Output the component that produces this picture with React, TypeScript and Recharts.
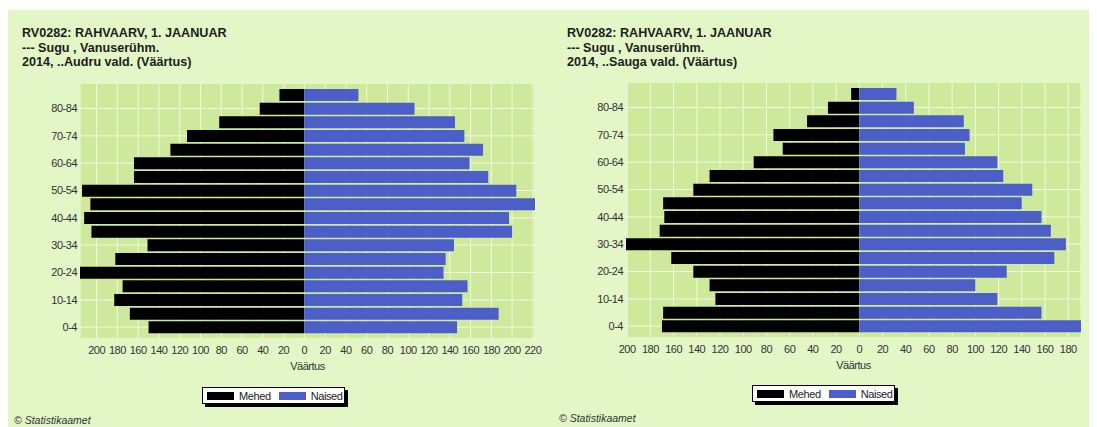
import React from 'react'
import { BarChart, Bar, XAxis, YAxis, CartesianGrid } from 'recharts'

// age groups, youngest first (axis is reversed so 0-4 sits at the bottom)
const ageGroups = [
  '0-4', '5-9', '10-14', '15-19', '20-24', '25-29', '30-34', '35-39', '40-44',
  '45-49', '50-54', '55-59', '60-64', '65-69', '70-74', '75-79', '80-84', '85+',
]

const audruMale = [150, 168, 183, 175, 216, 182, 151, 205, 212, 206, 214, 164, 164, 129, 113, 82, 43, 24]
const audruFemale = [147, 187, 152, 157, 134, 136, 144, 200, 197, 222, 204, 177, 159, 172, 154, 145, 106, 52]

const saugaMale = [170, 169, 124, 129, 143, 162, 201, 172, 168, 169, 143, 129, 91, 66, 74, 45, 27, 7]
const saugaFemale = [191, 157, 119, 100, 127, 168, 178, 165, 157, 140, 149, 124, 119, 91, 95, 90, 47, 32]

const audruTicks = [-200, -180, -160, -140, -120, -100, -80, -60, -40, -20, 0, 20, 40, 60, 80, 100, 120, 140, 160, 180, 200, 220]
const saugaTicks = [-200, -180, -160, -140, -120, -100, -80, -60, -40, -20, 0, 20, 40, 60, 80, 100, 120, 140, 160, 180]

const BG = '#e2f6c6'
const PLOT = '#cfe99c'
const GRID = '#f1f8de'
const BLUE = '#4c5fc9'
const FONT = '"Liberation Sans", Arial, sans-serif'
const PAD = 4
const tickStyle = { fill: '#333', fontSize: 11, fontFamily: FONT, letterSpacing: -0.5 }

type PanelProps = {
  place: string
  male: number[]
  female: number[]
  domain: [number, number]
  ticks: number[]
  x: number
  marginTop: number
  marginLeft: number
  marginRight: number
  legendX: number
  legendY: number
  copyY: number
}

function Legend({ x, y }: { x: number; y: number }) {
  return (
    <div
      style={{
        position: 'absolute',
        left: x,
        top: y,
        width: 141,
        height: 15,
        background: '#fff',
        border: '1px solid #000',
        boxShadow: '3px 3px 0 #000',
        display: 'flex',
        alignItems: 'center',
        fontFamily: FONT,
        fontSize: 11,
        letterSpacing: -0.4,
        color: '#222',
      }}
    >
      <span style={{ width: 27, height: 8, background: '#000', marginLeft: 4 }} />
      <span style={{ marginLeft: 5 }}>Mehed</span>
      <span style={{ width: 27, height: 8, background: BLUE, marginLeft: 8 }} />
      <span style={{ marginLeft: 5 }}>Naised</span>
    </div>
  )
}

// horizontal grid only at the labelled age groups (every other one)
function labelledRows(props: any) {
  const s = props?.yAxis?.scale
  const idx = ageGroups.map((_, i) => i).filter((i) => i % 2 === 0)
  if (typeof s === 'function') {
    const bw = typeof s.bandwidth === 'function' ? s.bandwidth() : 0
    return idx.map((i) => s(ageGroups[i]) + bw / 2)
  }
  const off = props?.offset
  if (!off) return []
  const band = (off.height - 2 * PAD) / ageGroups.length
  return idx.map((i) => off.top + PAD + (ageGroups.length - 1 - i + 0.5) * band)
}

function Panel(p: PanelProps) {
  const data = ageGroups.map((age, i) => ({ age, mehed: -p.male[i], naised: p.female[i] }))
  const w = 545
  const h = 380
  return (
    <>
      <div
        style={{
          position: 'absolute',
          left: p.x + 14,
          top: 16,
          fontFamily: FONT,
          fontWeight: 'bold',
          fontSize: 12.6,
          lineHeight: '14.5px',
          color: '#1c1c1c',
        }}
      >
        <div>RV0282: RAHVAARV, 1. JAANUAR</div>
        <div>--- Sugu , Vanuserühm.</div>
        <div>2014, ..{p.place} vald. (Väärtus)</div>
      </div>
      <div style={{ position: 'absolute', left: p.x, top: 0 }}>
        <BarChart
          width={w}
          height={h}
          data={data}
          layout="vertical"
          stackOffset="sign"
          barCategoryGap={1}
          margin={{ top: p.marginTop, left: p.marginLeft, right: p.marginRight, bottom: h - p.marginTop - 254 - 36 }}
        >
          <CartesianGrid
            fill={PLOT}
            stroke={GRID}
            strokeWidth={1}
            horizontalCoordinatesGenerator={labelledRows}
          />
          <XAxis
            type="number"
            domain={p.domain}
            ticks={p.ticks}
            allowDataOverflow
            tickFormatter={(v: number) => String(Math.abs(v))}
            axisLine={false}
            tickLine={false}
            tickSize={0}
            tickMargin={8}
            height={36}
            interval={0}
            tick={tickStyle}
            label={{ value: 'Väärtus', position: 'insideBottom', offset: 4, ...tickStyle }}
          />
          <YAxis
            type="category"
            dataKey="age"
            reversed
            interval={1}
            width={60}
            axisLine={false}
            tickLine={false}
            tickSize={0}
            tickMargin={3}
            padding={{ top: PAD, bottom: PAD }}
            tick={tickStyle}
          />
          <Bar dataKey="mehed" stackId="s" fill="#000" isAnimationActive={false} />
          <Bar dataKey="naised" stackId="s" fill={BLUE} isAnimationActive={false} />
        </BarChart>
      </div>
      <Legend x={p.legendX} y={p.legendY} />
      <div
        style={{
          position: 'absolute',
          left: p.x + 6,
          top: p.copyY,
          fontFamily: FONT,
          fontStyle: 'italic',
          fontSize: 10.5,
          color: '#333',
        }}
      >
        © Statistikaamet
      </div>
    </>
  )
}

export default function App() {
  return (
    <div style={{ position: 'relative', width: 1089, height: 419 }}>
      <div style={{ position: 'absolute', left: 0, top: 2, width: 1089, height: 417, background: BG, overflow: 'hidden' }}>
        <Panel
          place="Audru"
          male={audruMale}
          female={audruFemale}
          domain={[-216, 222]}
          ticks={audruTicks}
          x={0}
          marginTop={74}
          marginLeft={12}
          marginRight={18}
          legendX={194}
          legendY={377}
          copyY={404}
        />
        <Panel
          place="Sauga"
          male={saugaMale}
          female={saugaFemale}
          domain={[-201, 191]}
          ticks={saugaTicks}
          x={545}
          marginTop={73}
          marginLeft={13}
          marginRight={17}
          legendX={744}
          legendY={375}
          copyY={402}
        />
      </div>
    </div>
  )
}
